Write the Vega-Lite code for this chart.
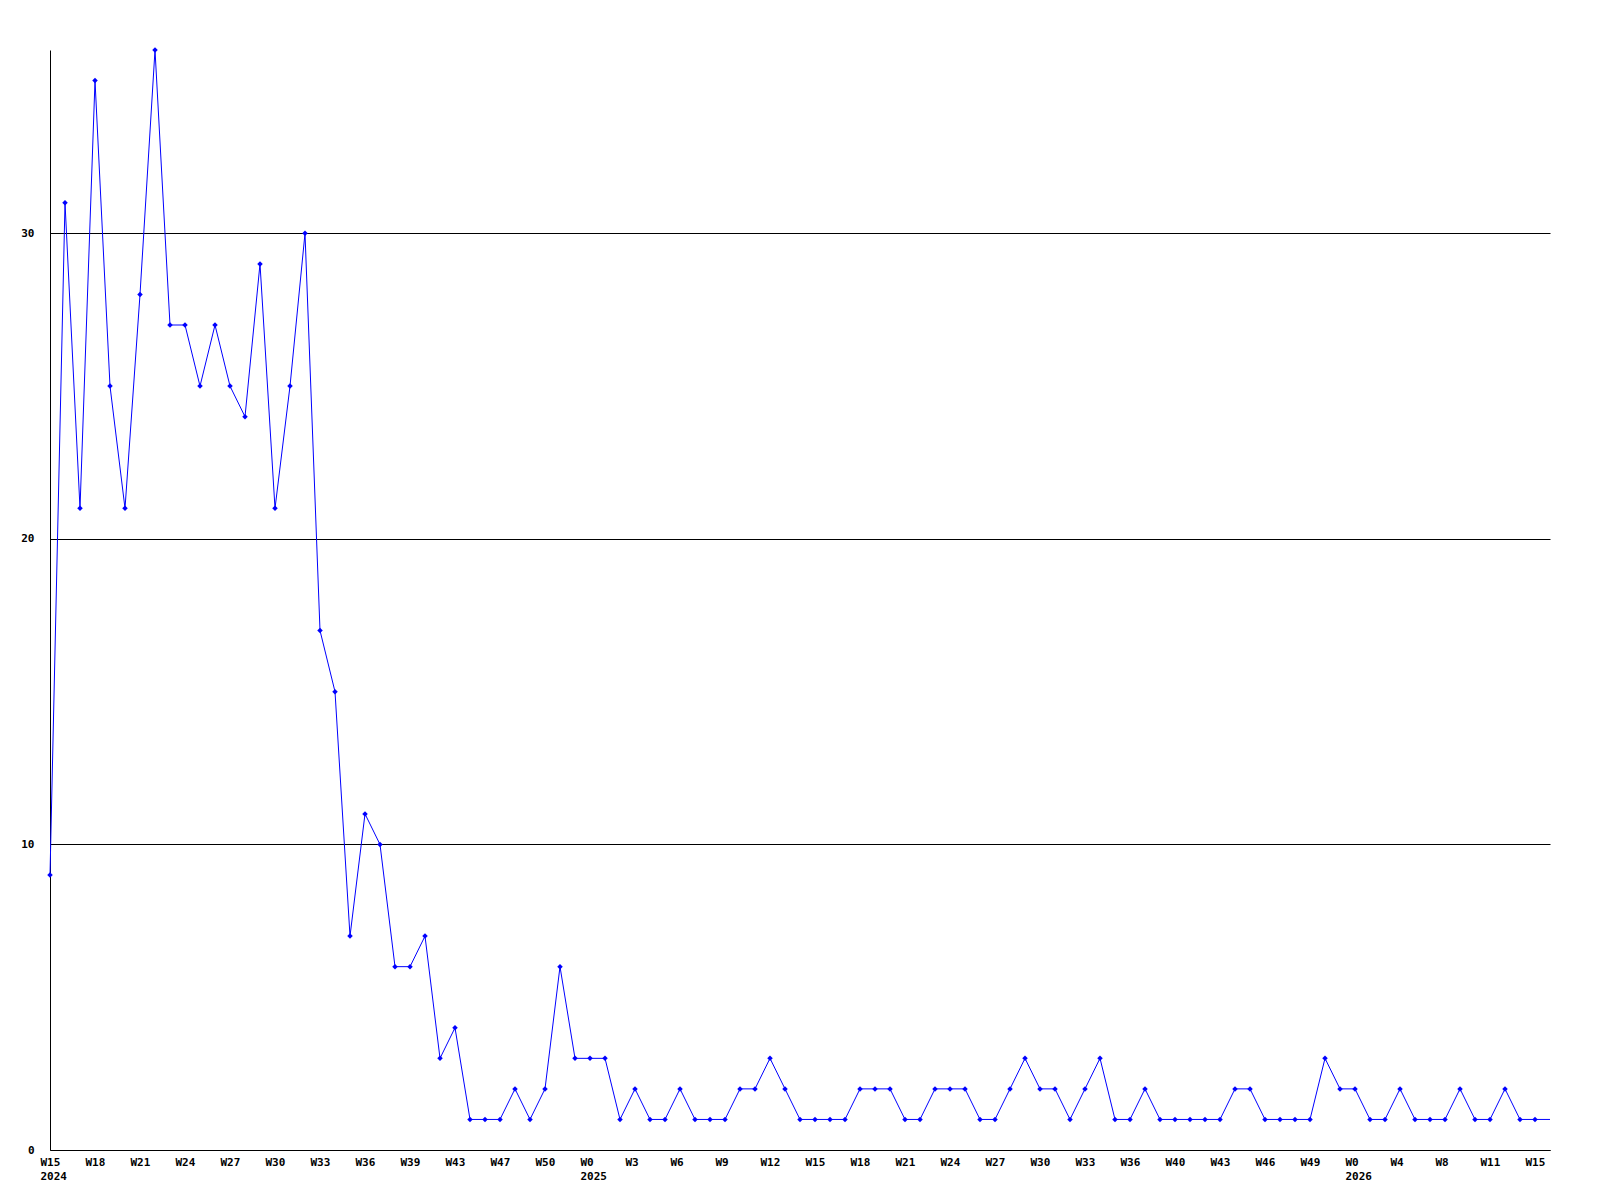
{
  "$schema": "https://vega.github.io/schema/vega-lite/v6.json",
  "width": 1500,
  "height": 1100,
  "autosize": "none",
  "padding": {"left": 50, "top": 50, "right": 50, "bottom": 50},
  "background": "white",
  "config": {
    "view": {"stroke": null},
    "axis": {"labelFont": "DejaVu Sans Mono", "labelFontWeight": "bold", "labelFontSize": 11, "labelColor": "black", "domainColor": "black", "domainWidth": 1, "ticks": false, "title": null}
  },
  "data": {"values": [
    {"i":0,"v":9},{"i":1,"v":31},{"i":2,"v":21},{"i":3,"v":35},{"i":4,"v":25},{"i":5,"v":21},{"i":6,"v":28},{"i":7,"v":36},{"i":8,"v":27},{"i":9,"v":27},
    {"i":10,"v":25},{"i":11,"v":27},{"i":12,"v":25},{"i":13,"v":24},{"i":14,"v":29},{"i":15,"v":21},{"i":16,"v":25},{"i":17,"v":30},{"i":18,"v":17},{"i":19,"v":15},
    {"i":20,"v":7},{"i":21,"v":11},{"i":22,"v":10},{"i":23,"v":6},{"i":24,"v":6},{"i":25,"v":7},{"i":26,"v":3},{"i":27,"v":4},{"i":28,"v":1},{"i":29,"v":1},
    {"i":30,"v":1},{"i":31,"v":2},{"i":32,"v":1},{"i":33,"v":2},{"i":34,"v":6},{"i":35,"v":3},{"i":36,"v":3},{"i":37,"v":3},{"i":38,"v":1},{"i":39,"v":2},
    {"i":40,"v":1},{"i":41,"v":1},{"i":42,"v":2},{"i":43,"v":1},{"i":44,"v":1},{"i":45,"v":1},{"i":46,"v":2},{"i":47,"v":2},{"i":48,"v":3},{"i":49,"v":2},
    {"i":50,"v":1},{"i":51,"v":1},{"i":52,"v":1},{"i":53,"v":1},{"i":54,"v":2},{"i":55,"v":2},{"i":56,"v":2},{"i":57,"v":1},{"i":58,"v":1},{"i":59,"v":2},
    {"i":60,"v":2},{"i":61,"v":2},{"i":62,"v":1},{"i":63,"v":1},{"i":64,"v":2},{"i":65,"v":3},{"i":66,"v":2},{"i":67,"v":2},{"i":68,"v":1},{"i":69,"v":2},
    {"i":70,"v":3},{"i":71,"v":1},{"i":72,"v":1},{"i":73,"v":2},{"i":74,"v":1},{"i":75,"v":1},{"i":76,"v":1},{"i":77,"v":1},{"i":78,"v":1},{"i":79,"v":2},
    {"i":80,"v":2},{"i":81,"v":1},{"i":82,"v":1},{"i":83,"v":1},{"i":84,"v":1},{"i":85,"v":3},{"i":86,"v":2},{"i":87,"v":2},{"i":88,"v":1},{"i":89,"v":1},
    {"i":90,"v":2},{"i":91,"v":1},{"i":92,"v":1},{"i":93,"v":1},{"i":94,"v":2},{"i":95,"v":1},{"i":96,"v":1},{"i":97,"v":2},{"i":98,"v":1},{"i":99,"v":1},
    {"i":100,"v":1}
  ]},
  "encoding": {
    "x": {
      "field": "i", "type": "quantitative",
      "scale": {"domain": [0, 100], "nice": false, "zero": false},
      "axis": {
        "grid": false,
        "values": [0,3,6,9,12,15,18,21,24,27,30,33,36,39,42,45,48,51,54,57,60,63,66,69,72,75,78,81,84,87,90,93,96,99],
        "labelAlign": "left",
        "labelOffset": -10,
        "labelBaseline": "top",
        "labelPadding": 6,
        "labelLineHeight": 14,
        "labelOverlap": false,
        "labelFlush": false,
        "labelExpr": "datum.value == 0 ? ['W15', '2024'] : datum.value == 36 ? ['W0', '2025'] : datum.value == 87 ? ['W0', '2026'] : ['W15','W18','W21','W24','W27','W30','W33','W36','W39','W43','W47','W50','W0','W3','W6','W9','W12','W15','W18','W21','W24','W27','W30','W33','W36','W40','W43','W46','W49','W0','W4','W8','W11','W15'][round(datum.value / 3)]"
      }
    },
    "y": {
      "field": "v", "type": "quantitative",
      "scale": {"domain": [0, 36], "nice": false},
      "axis": {
        "values": [0, 10, 20, 30],
        "grid": true,
        "gridColor": "black",
        "gridOpacity": 1,
        "gridWidth": 1,
        "labelPadding": 16,
        "labelBaseline": "middle"
      }
    }
  },
  "layer": [
    {"mark": {"type": "line", "color": "#0000ff", "strokeWidth": 1, "interpolate": "linear"}},
    {
      "transform": [{"filter": "datum.i < 100"}],
      "mark": {"type": "point", "shape": "diamond", "filled": true, "color": "#0000ff", "size": 30, "opacity": 1}
    }
  ]
}
